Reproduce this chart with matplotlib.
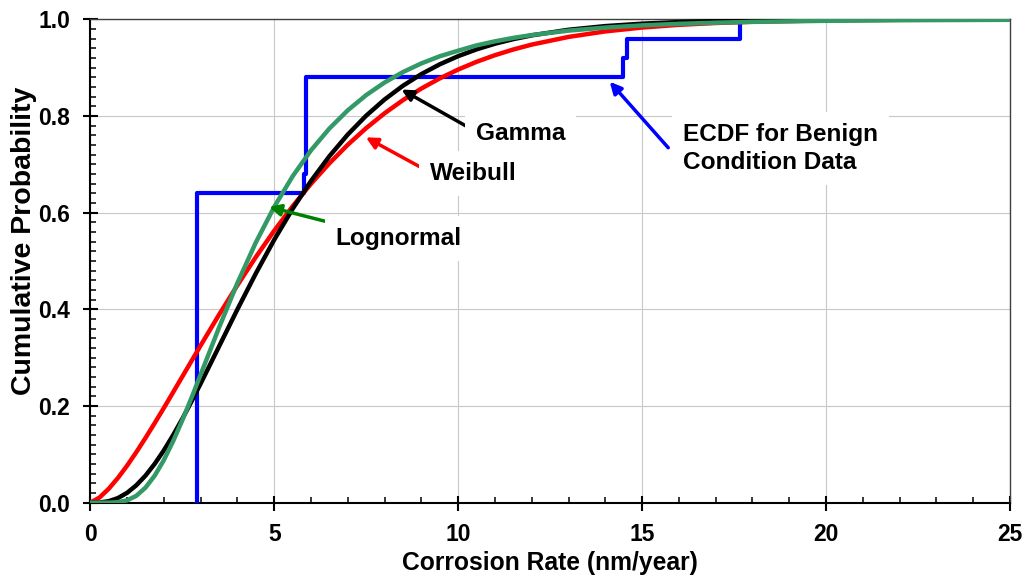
import matplotlib
matplotlib.use("Agg")
import matplotlib.pyplot as plt
from matplotlib.ticker import MultipleLocator

plt.rcParams['font.family'] = ['Liberation Sans', 'DejaVu Sans']
plt.rcParams['font.weight'] = 'bold'

# ECDF of the benign condition data (step positions and levels)
ecdf_x = [2.9, 2.9, 5.8, 5.87, 14.47, 14.58, 17.66]
ecdf_y = [0.0, 0.64, 0.68, 0.88, 0.92, 0.96, 1.0]

# fitted CDF curves
rate = [0, 0.25, 0.5, 0.75, 1, 1.25, 1.5, 1.75, 2, 2.25, 2.5, 2.75, 3, 3.5, 4,
        4.5, 5, 5.5, 6, 6.5, 7, 7.5, 8, 8.5, 9, 9.5, 10, 10.5, 11, 11.5, 12, 13,
        14, 15, 16, 17, 18, 20, 22, 25]
weibull = [0.0, 0.0106, 0.0287, 0.0511, 0.0766, 0.1044, 0.1339, 0.1646, 0.1961,
           0.2283, 0.2607, 0.2930, 0.3254, 0.3890, 0.4501, 0.5083, 0.5628, 0.6134,
           0.6599, 0.7023, 0.7407, 0.7751, 0.8058, 0.8330, 0.8570, 0.8780, 0.8963,
           0.9123, 0.9260, 0.9378, 0.9479, 0.9638, 0.9752, 0.9832, 0.9888, 0.9926,
           0.9951, 0.9980, 0.9992, 0.9998]
gamma = [0.0, 0.0004, 0.0031, 0.0095, 0.0204, 0.0359, 0.0559, 0.0803, 0.1083,
         0.1396, 0.1733, 0.2093, 0.2465, 0.3233, 0.4002, 0.4744, 0.5441, 0.6080,
         0.6658, 0.7170, 0.7619, 0.8009, 0.8343, 0.8628, 0.8869, 0.9071, 0.9240,
         0.9380, 0.9497, 0.9592, 0.9670, 0.9786, 0.9862, 0.9912, 0.9945, 0.9965,
         0.9978, 0.9992, 0.9997, 0.9999]
lognormal = [0.0, 0.0, 0.0001, 0.0010, 0.0048, 0.0142, 0.0311, 0.0559, 0.0882,
             0.1269, 0.1703, 0.2168, 0.2652, 0.3623, 0.4547, 0.5385, 0.6121, 0.6754,
             0.7292, 0.7743, 0.8120, 0.8434, 0.8695, 0.8911, 0.9090, 0.9238, 0.9353,
             0.9463, 0.9547, 0.9618, 0.9677, 0.9768, 0.9831, 0.9877, 0.9909, 0.9932,
             0.9949, 0.9971, 0.9983, 0.9992]

fig = plt.figure(figsize=(10.26, 5.78), dpi=100)
ax = fig.add_axes([0.088, 0.1303, 0.8964, 0.8361])

ax.step(ecdf_x, ecdf_y, where='post', color='#0000FF', lw=3.0, zorder=3)
ax.plot(rate, weibull, color='#FF0000', lw=3.2, zorder=4)
ax.plot(rate, gamma, color='black', lw=3.2, zorder=5)
ax.plot(rate, lognormal, color='#339966', lw=3.2, zorder=6)

ax.set_xlim(0, 25)
ax.set_ylim(0, 1.0)
ax.xaxis.set_major_locator(MultipleLocator(5))
ax.xaxis.set_minor_locator(MultipleLocator(1))
ax.yaxis.set_major_locator(MultipleLocator(0.2))
ax.yaxis.set_minor_locator(MultipleLocator(0.02))
ax.yaxis.set_major_formatter(plt.FormatStrFormatter('%.1f'))
ax.tick_params(which='major', direction='inout', length=10.8, width=1.5,
               labelsize=16.5, pad=9)
ax.tick_params(which='minor', direction='in', length=4.3, width=1.1)
ax.grid(which='major', color='#c8c8c8', lw=0.8, zorder=0)
ax.set_axisbelow(True)

for side in ['left', 'bottom']:
    ax.spines[side].set_linewidth(1.5)
    ax.spines[side].set_color('black')
for side in ['top', 'right']:
    ax.spines[side].set_linewidth(1.0)
    ax.spines[side].set_color('#404040')

ax.set_xlabel('Corrosion Rate (nm/year)', fontsize=17.7, fontweight='bold', labelpad=4)
ax.set_ylabel('Cumulative Probability', fontsize=20.5, fontweight='bold')
ax.yaxis.set_label_coords(-0.058, 0.5415)

box = dict(boxstyle='square,pad=0.45', fc='white', ec='none')
arrow = dict(arrowstyle='-|>', lw=2.5, mutation_scale=17, shrinkA=0, shrinkB=0)

ax.annotate('', xy=(8.46, 0.855), xytext=(10.27, 0.777),
            arrowprops=dict(arrow, color='black'), zorder=7)
ax.text(10.48, 0.763, 'Gamma', fontsize=17.6, fontweight='bold', va='center',
        ha='left', bbox=box, zorder=8)

ax.annotate('', xy=(7.49, 0.756), xytext=(9.08, 0.690),
            arrowprops=dict(arrow, color='#FF0000'), zorder=7)
ax.text(9.23, 0.682, 'Weibull', fontsize=17.6, fontweight='bold', va='center',
        ha='left', bbox=box, zorder=8)

ax.annotate('', xy=(4.86, 0.612), xytext=(6.71, 0.576),
            arrowprops=dict(arrow, color='#008000'), zorder=7)
ax.text(6.67, 0.546, 'Lognormal', fontsize=17.6, fontweight='bold', va='center',
        ha='left', bbox=box, zorder=8)

ax.annotate('', xy=(14.12, 0.871), xytext=(15.71, 0.7345),
            arrowprops=dict(arrow, color='#0000FF'), zorder=7)
ax.text(16.1, 0.733, 'ECDF for Benign\nCondition Data', fontsize=17.6,
        fontweight='bold', va='center', ha='left', linespacing=1.25,
        bbox=box, zorder=8)

fig.savefig('out.png', dpi=100)
